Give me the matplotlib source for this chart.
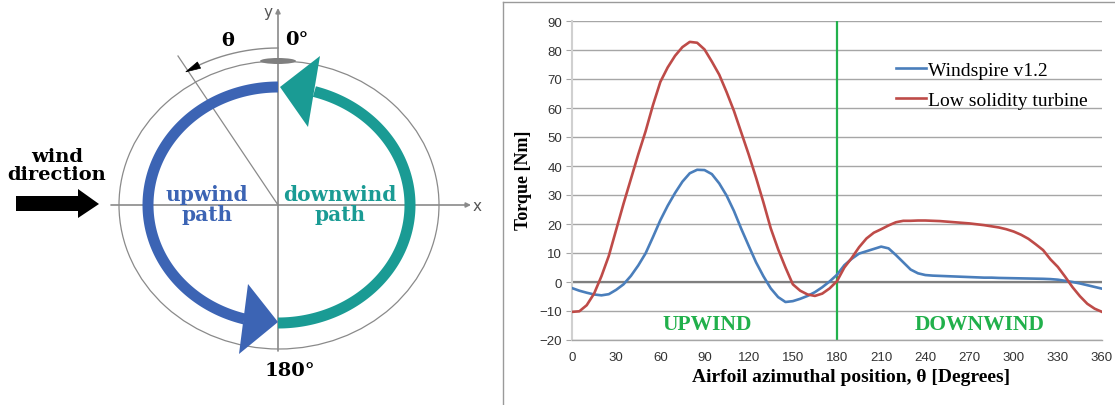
import numpy as np
import matplotlib
matplotlib.use('Agg')
import matplotlib.pyplot as plt
from matplotlib.patches import Polygon, Ellipse
from matplotlib.lines import Line2D

# ---------------- data ----------------
theta = list(range(0, 361, 5))
windspire = [-2.1, -3.0, -3.7, -4.3, -4.6, -4.2, -2.7, -0.8, 2.1, 5.7,
             9.9, 15.5, 21.3, 26.3, 30.7, 34.6, 37.5, 38.7, 38.6, 37.2,
             34.0, 29.8, 24.5, 18.3, 12.5, 6.8, 2.0, -2.2, -5.2, -6.9,
             -6.6, -5.8, -4.8, -3.5, -1.8, 0.2, 2.5,
             5.8, 8.0, 9.8, 10.6, 11.4, 12.2, 11.6, 9.3, 6.8, 4.3,
             3.0, 2.4, 2.2, 2.1, 2.0, 1.9, 1.8, 1.7, 1.6, 1.5,
             1.5, 1.4, 1.35, 1.3, 1.25, 1.2, 1.15, 1.1, 1.0, 0.8,
             0.4, 0.0, -0.5, -1.1, -1.7, -2.3]
low_solidity = [-10.3, -10.1, -8.0, -4.0, 2.0, 9.0, 18.0, 27.0, 35.5, 44.0,
                52.0, 61.0, 69.0, 74.0, 78.0, 81.0, 82.8, 82.5, 80.2, 76.0,
                71.5, 65.5, 59.0, 51.5, 44.0, 36.0, 27.5, 18.5, 11.3, 5.0,
                -0.8, -3.0, -4.3, -4.8, -4.0, -2.2, 0.3,
                5.0, 8.3, 12.0, 15.0, 17.0, 18.2, 19.5, 20.6, 21.1, 21.1,
                21.2, 21.2, 21.1, 21.0, 20.8, 20.6, 20.4, 20.2, 19.9, 19.6,
                19.2, 18.8, 18.2, 17.4, 16.3, 14.9, 13.0, 11.0, 7.8, 5.2,
                1.8, -1.8, -4.9, -7.5, -9.2, -10.3]
series_labels = ['Windspire v1.2', 'Low solidity turbine']
x_ticks = list(range(0, 361, 30))
y_ticks = list(range(-20, 91, 10))
region_labels = ['UPWIND', 'DOWNWIND']

W, H = 1115, 406
fig = plt.figure(figsize=(W / 100, H / 100), dpi=100)

# ---------------- left diagram (pixel coordinates) ----------------
ax0 = fig.add_axes([0, 0, 500 / W, 1])
ax0.set_xlim(0, 500)
ax0.set_ylim(406, 0)
ax0.axis('off')

CX, CY = 278, 206
GRAY = '#8a8a8a'
BLUE = '#3c64b4'
TEAL = '#1a9b94'
DSERIF = 'DejaVu Serif'


def ell_pts(rx, ry, t0, t1, n=200):
    t = np.radians(np.linspace(t0, t1, n))
    return np.column_stack([CX + rx * np.cos(t), CY - ry * np.sin(t)])


def band(rx, ry, t0, t1, hw, color):
    outer = ell_pts(rx + hw, ry + hw, t0, t1)
    inner = ell_pts(rx - hw, ry - hw, t1, t0)
    ax0.add_patch(Polygon(np.vstack([outer, inner]), closed=True,
                          fc=color, ec='none', zorder=3))


# outer thin ring
ax0.add_patch(Ellipse((CX + 1, CY), 320, 288, fill=False, ec=GRAY, lw=0.9, zorder=1))
# axes lines
ax0.annotate('', xy=(471, CY), xytext=(111, CY),
             arrowprops=dict(arrowstyle='-|>', color=GRAY, lw=1.2,
                             mutation_scale=7, shrinkA=0, shrinkB=0), zorder=1)
ax0.annotate('', xy=(CX, 9), xytext=(CX, 352),
             arrowprops=dict(arrowstyle='-|>', color=GRAY, lw=1.2,
                             mutation_scale=7, shrinkA=0, shrinkB=0), zorder=1)
ax0.text(477, CY + 1, 'x', ha='center', va='center', fontsize=11,
         family='DejaVu Sans', color='#555555')
ax0.text(268, 13, 'y', ha='center', va='center', fontsize=11,
         family='DejaVu Sans', color='#555555')
# radial line
ax0.plot([CX, 178], [CY, 57], color=GRAY, lw=0.9, zorder=1)
# theta arc with arrowhead
arc = ell_pts(174, 157, 90, 118)
ax0.plot(arc[:, 0], arc[:, 1], color=GRAY, lw=1.0, zorder=1)
tip = ell_pts(174, 157, 122, 122, 1)[0]
base = ell_pts(174, 157, 117, 117, 1)[0]
d = tip - base
d = d / np.hypot(*d)
nrm = np.array([-d[1], d[0]])
ax0.add_patch(Polygon([tip, base + nrm * 3.5, base - nrm * 3.5], closed=True,
                      fc='black', ec='black', lw=0.5, zorder=4))
# airfoil
ax0.add_patch(Ellipse((CX, 62), 36, 6, fc='#7f7f7f', ec='none', zorder=4))
# upwind (blue) and downwind (teal) bands
band(130, 118, 90, 255, 5.5, BLUE)
ax0.add_patch(Polygon([(248, 285), (278, 323), (239, 355)], closed=True,
                      fc=BLUE, ec='none', zorder=3))
band(132, 118, 270, 434, 5.5, TEAL)
ax0.add_patch(Polygon([(320, 57), (280, 88), (308, 128)], closed=True,
                      fc=TEAL, ec='none', zorder=3))
# wind arrow
ax0.add_patch(Polygon([(16, 197), (78, 197), (78, 190), (99, 205), (78, 219),
                       (78, 212), (16, 212)], closed=True, fc='black', ec='none'))
ax0.text(57, 166, 'wind\ndirection', ha='center', va='center', fontsize=14,
         family=DSERIF, weight='bold', linespacing=1.0)
ax0.text(228, 41, 'θ', ha='center', va='center', fontsize=14,
         family=DSERIF, weight='bold')
ax0.text(297, 40, '0°', ha='center', va='center', fontsize=14,
         family=DSERIF, weight='bold')
ax0.text(290, 371, '180°', ha='center', va='center', fontsize=14,
         family=DSERIF, weight='bold')
ax0.text(207, 205, 'upwind\npath', ha='center', va='center', fontsize=14.5,
         family=DSERIF, weight='bold', color=BLUE, linespacing=1.05)
ax0.text(340, 205, 'downwind\npath', ha='center', va='center', fontsize=14.5,
         family=DSERIF, weight='bold', color=TEAL, linespacing=1.05)

# panel border for the chart
fig.add_artist(Line2D([503 / W, 503 / W], [0, 1 - 3 / H], transform=fig.transFigure,
                      color='#9a9a9a', lw=1.0))
fig.add_artist(Line2D([503 / W, 1], [1 - 3 / H, 1 - 3 / H], transform=fig.transFigure,
                      color='#9a9a9a', lw=1.0))

# ---------------- right chart ----------------
L, R, T, B = 572, 1102, 22, 341
ax = fig.add_axes([L / W, 1 - B / H, (R - L) / W, (B - T) / H])
ax.set_xlim(0, 360)
ax.set_ylim(-20, 90)
ax.set_xticks(x_ticks)
ax.set_yticks(y_ticks)
ax.grid(axis='y', color='#a6a6a6', lw=1.0)
ax.set_axisbelow(True)
ax.axhline(0, color='#7f7f7f', lw=1.6, zorder=1)
ax.axvline(180, color='#22b14c', lw=1.6, zorder=1)
l1, = ax.plot(theta, windspire, color='#4a7ebb', lw=1.9, zorder=3,
              solid_joinstyle='round')
l2, = ax.plot(theta, low_solidity, color='#be4b48', lw=1.9, zorder=3,
              solid_joinstyle='round')

for s in ['top', 'right']:
    ax.spines[s].set_visible(False)
ax.spines['bottom'].set_color('#a6a6a6')
ax.spines['bottom'].set_linewidth(1.0)
ax.spines['left'].set_color('#d0d0d0')
ax.spines['left'].set_linewidth(1.5)
ax.tick_params(axis='y', length=4, color='#a6a6a6', labelsize=9.5,
               labelcolor='#333333', pad=3)
ax.tick_params(axis='x', length=0, labelsize=9.5, labelcolor='#333333', pad=8)
for lab in ax.get_xticklabels() + ax.get_yticklabels():
    lab.set_family('Liberation Sans')

ax.set_ylabel('Torque [Nm]', family='Liberation Serif', weight='bold', fontsize=13)
ax.yaxis.set_label_coords(-0.0755, 0.505)
ax.set_xlabel('Airfoil azimuthal position, θ [Degrees]', family='Liberation Serif',
              weight='bold', fontsize=14)
ax.xaxis.set_label_coords(0.526, -0.088)

ax.legend([l1, l2], series_labels, loc='upper left', bbox_to_anchor=(0.611, 0.874),
          frameon=False, prop={'family': 'Liberation Serif', 'size': 14},
          handlelength=1.55, handletextpad=0.1, borderpad=0, borderaxespad=0,
          labelspacing=0.65)

ax.text(92, -14.6, region_labels[0], ha='center', va='center', color='#21b04b',
        family='Liberation Serif', weight='bold', fontsize=15.5)
ax.text(276.6, -14.6, region_labels[1], ha='center', va='center', color='#21b04b',
        family='Liberation Serif', weight='bold', fontsize=15.5)

fig.savefig('out.png', dpi=100)
